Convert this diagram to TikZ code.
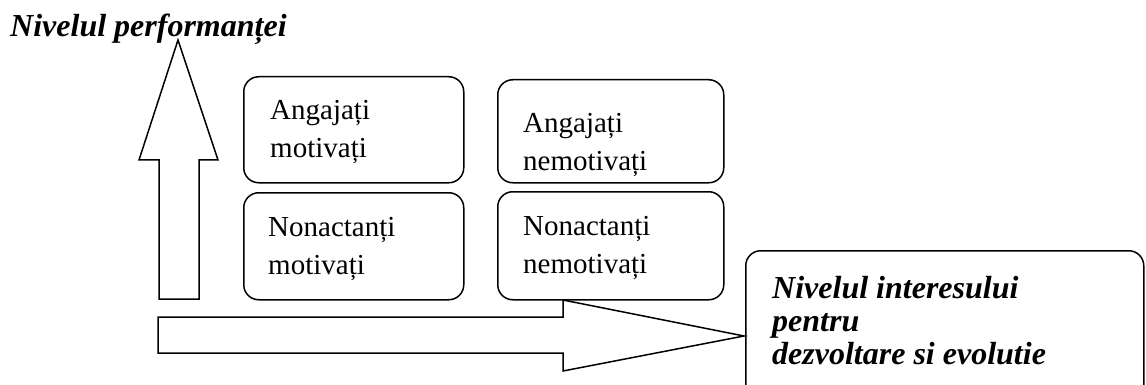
\documentclass[tikz,border=0pt]{standalone}
\usepackage{fontspec}
\setmainfont{Liberation Serif}
\usepackage{tikz}

\newcommand{\celllines}[1]{\vtop{\halign{##\hfil\cr#1\crcr}}}

\begin{document}
\begin{tikzpicture}[x=1pt, y=-1pt,
  cell/.style={draw, line width=1.5pt, rounded corners=15pt, minimum width=220pt, minimum height=106pt, anchor=north west, inner sep=0pt},
  celltext/.style={anchor=base west, inner sep=0pt, font=\fontsize{29}{38}\selectfont},
  axistext/.style={anchor=base west, inner sep=0pt, font=\fontsize{32}{33}\selectfont\bfseries\itshape}]
\useasboundingbox (0,0) rectangle (1146,385);
\clip (0,0) rectangle (1146,385);
\begin{scope}
\draw[line width=1.5pt] (159,299) -- (159,160) -- (139,160) -- (178,40) -- (218,160) -- (199,160) -- (199,299) -- cycle;
\draw[line width=1.5pt] (158,317) -- (563,317) -- (563,300) -- (744,336) -- (563,371) -- (563,353) -- (158,353) -- cycle;
\node[axistext] (perf) at (10,37) {Nivelul performanței};

\node[cell] (am) at (243,76) {};
\node[celltext] (amtxt) at (270,120) {\celllines{Angajați\cr motivați}};
\node[cell, minimum width=226pt, minimum height=103pt] (an) at (497,79) {};
\node[celltext] (antxt) at (523,133) {\celllines{Angajați\cr nemotivați}};
\node[cell, minimum height=107pt] (nm) at (243,192) {};
\node[celltext] (nmtxt) at (268,236) {\celllines{Nonactanți\cr motivați}};
\node[cell, minimum width=226pt, minimum height=108pt] (nn) at (497,191) {};
\node[celltext] (nntxt) at (523,235) {\celllines{Nonactanți\cr nemotivați}};

\node[cell, minimum width=398pt, minimum height=170pt] (interes) at (745,250) {};
\node[axistext] (intxt) at (772,298) {\celllines{Nivelul interesului\cr pentru\cr dezvoltare si evolutie}};
\end{scope}
\end{tikzpicture}
\end{document}
